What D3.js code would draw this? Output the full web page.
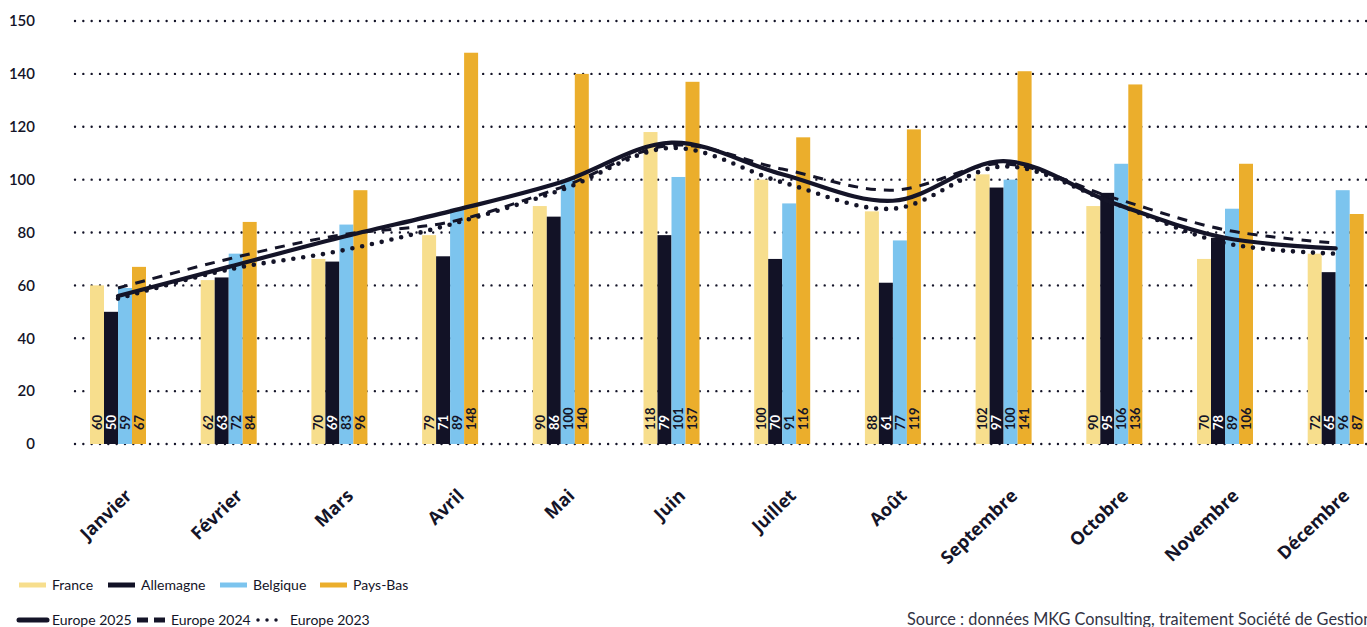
<!DOCTYPE html>
<html>
<head>
<meta charset="utf-8">
<script src="https://cdn.jsdelivr.net/npm/d3@7"></script>
<style>
  html, body { margin: 0; padding: 0; background: #ffffff; }
  svg { display: block; }
  text { font-family: "Lato", "Open Sans", sans-serif; fill: #141428; }
</style>
</head>
<body>
<svg id="chart" width="1367" height="627"></svg>
<script>
// ---------- DATA ----------
const months = ["Janvier","Février","Mars","Avril","Mai","Juin","Juillet","Août","Septembre","Octobre","Novembre","Décembre"];
const seriesNames = ["France","Allemagne","Belgique","Pays-Bas"];
const france    = [60, 62, 70, 79, 90, 118, 100, 88, 102, 90, 70, 72];
const allemagne = [50, 63, 69, 71, 86, 79, 70, 61, 97, 95, 78, 65];
const belgique  = [59, 72, 83, 89, 100, 101, 91, 77, 100, 106, 89, 96];
const paysBas   = [67, 84, 96, 148, 140, 137, 116, 119, 141, 136, 106, 87];
const europe2025 = [56, 67, 78, 88, 99, 114, 102, 92, 107, 91, 78, 74];
const europe2024 = [59, 70, 79, 84, 97, 113, 104, 96, 106, 93, 81, 76];
const europe2023 = [55, 66, 73, 83, 96, 112, 99, 89, 105, 91, 76, 72];
const lineNames = ["Europe 2025","Europe 2024","Europe 2023"];
const yTickValues = [0, 20, 40, 60, 80, 100, 120, 140, 160];
const yTickLabels = ["0", "20", "40", "60", "80", "100", "120", "140", "150"];
const sourceText = "Source : données MKG Consulting, traitement Société de Gestion";

// ---------- STYLE ----------
const barColors = ["#F7DE8D", "#121226", "#7CC4EE", "#EBAE2C"];
const labelColors = ["#141428", "#ffffff", "#141428", "#141428"];
const ink = "#141428";
const lineStyles = [
  { width: 4.2, dash: null, cap: "round" },
  { width: 3, dash: "10 8", cap: "butt" },
  { width: 4.6, dash: "0 10", cap: "round" }
];

const svg = d3.select("#chart");
const barData = [france, allemagne, belgique, paysBas];
const lineData = [europe2025, europe2024, europe2023];

const x = d3.scalePoint().domain(months).range([118, 1335.7]);
const groupW = 56;
const xs = d3.scaleBand().domain(seriesNames).range([-groupW / 2, groupW / 2]).padding(0);
const y = d3.scaleLinear().domain([0, 160]).range([444, 21]);

// gridlines (dotted)
const grid = svg.append("g");
grid.selectAll("line").data(yTickValues).join("line")
  .attr("x1", 75).attr("x2", 1367)
  .attr("y1", d => y(d)).attr("y2", d => y(d))
  .attr("stroke", ink).attr("stroke-width", 2.4)
  .attr("stroke-linecap", "round").attr("stroke-dasharray", "0 8.33");

// y axis labels
const yAxis = d3.axisLeft(y).tickValues(yTickValues)
  .tickFormat((d, i) => yTickLabels[i]).tickSize(0).tickPadding(0);
const yg = svg.append("g").attr("transform", "translate(35,0)").call(yAxis);
yg.select(".domain").remove();
yg.selectAll("text").style("font-size", "15px").style("font-weight", 600)
  .style("font-family", "Lato, sans-serif").attr("fill", ink);

// bars
const groups = svg.append("g").selectAll("g").data(months).join("g")
  .attr("transform", d => `translate(${x(d)},0)`);
groups.each(function(m, mi) {
  const g = d3.select(this);
  seriesNames.forEach((s, si) => {
    const v = barData[si][mi];
    g.append("rect")
      .attr("x", xs(s)).attr("width", xs.bandwidth())
      .attr("y", y(v)).attr("height", y(0) - y(v))
      .attr("fill", barColors[si]);
    g.append("text")
      .attr("transform", `translate(${xs(s) + xs.bandwidth() / 2 + 4.8},${y(0) - 14}) rotate(-90)`)
      .attr("text-anchor", "start")
      .style("font-size", "13px").style("font-weight", 700)
      .attr("fill", labelColors[si]).style("fill", labelColors[si])
      .text(v);
  });
});

// lines
const lineGen = d3.line().x((d, i) => x(months[i])).y(d => y(d)).curve(d3.curveCatmullRom.alpha(0.5));
lineData.forEach((arr, li) => {
  const st = lineStyles[li];
  const p = svg.append("path").datum(arr)
    .attr("d", lineGen).attr("fill", "none").attr("stroke", ink)
    .attr("stroke-width", st.width).attr("stroke-linecap", st.cap).attr("stroke-linejoin", "round");
  if (st.dash) p.attr("stroke-dasharray", st.dash);
});

// x labels
svg.append("g").selectAll("text").data(months).join("text")
  .attr("transform", d => `translate(${x(d) + 15},${497}) rotate(-44)`)
  .attr("text-anchor", "end")
  .style("font-family", "'Open Sans', sans-serif")
  .style("font-size", "18px").style("font-weight", 700)
  .text(d => d);

// legend row 1 (bars)
const leg1X = [19, 108, 220, 320];
const leg1 = svg.append("g");
seriesNames.forEach((s, i) => {
  leg1.append("line").attr("x1", leg1X[i]).attr("x2", leg1X[i] + 27)
    .attr("y1", 585).attr("y2", 585).attr("stroke", barColors[i]).attr("stroke-width", 5);
  leg1.append("text").attr("x", leg1X[i] + 33).attr("y", 590)
    .style("font-size", "14px").style("font-weight", 400).text(s);
});

// legend row 2 (lines)
const leg2X = [19, 137, 256];
const leg2 = svg.append("g");
lineNames.forEach((s, i) => {
  const st = lineStyles[i];
  const l = leg2.append("line").attr("x1", leg2X[i] + (i === 2 ? 2 : 0)).attr("x2", leg2X[i] + (i === 2 ? 29 : 28))
    .attr("y1", 620).attr("y2", 620).attr("stroke", ink)
    .attr("stroke-width", i === 2 ? 3.5 : 5).attr("stroke-linecap", st.cap);
  if (i === 1) l.attr("stroke-dasharray", "11 6");
  if (i === 2) l.attr("stroke-dasharray", "0 9");
  leg2.append("text").attr("x", leg2X[i] + (i === 0 ? 33 : 34)).attr("y", 625)
    .style("font-size", "14px").style("font-weight", 400).text(s);
});

// source
svg.append("text").attr("x", 907).attr("y", 625)
  .style("font-size", "16.3px").style("font-weight", 400).attr("fill", "#333344").style("fill", "#333344")
  .text(sourceText);
</script>
</body>
</html>
